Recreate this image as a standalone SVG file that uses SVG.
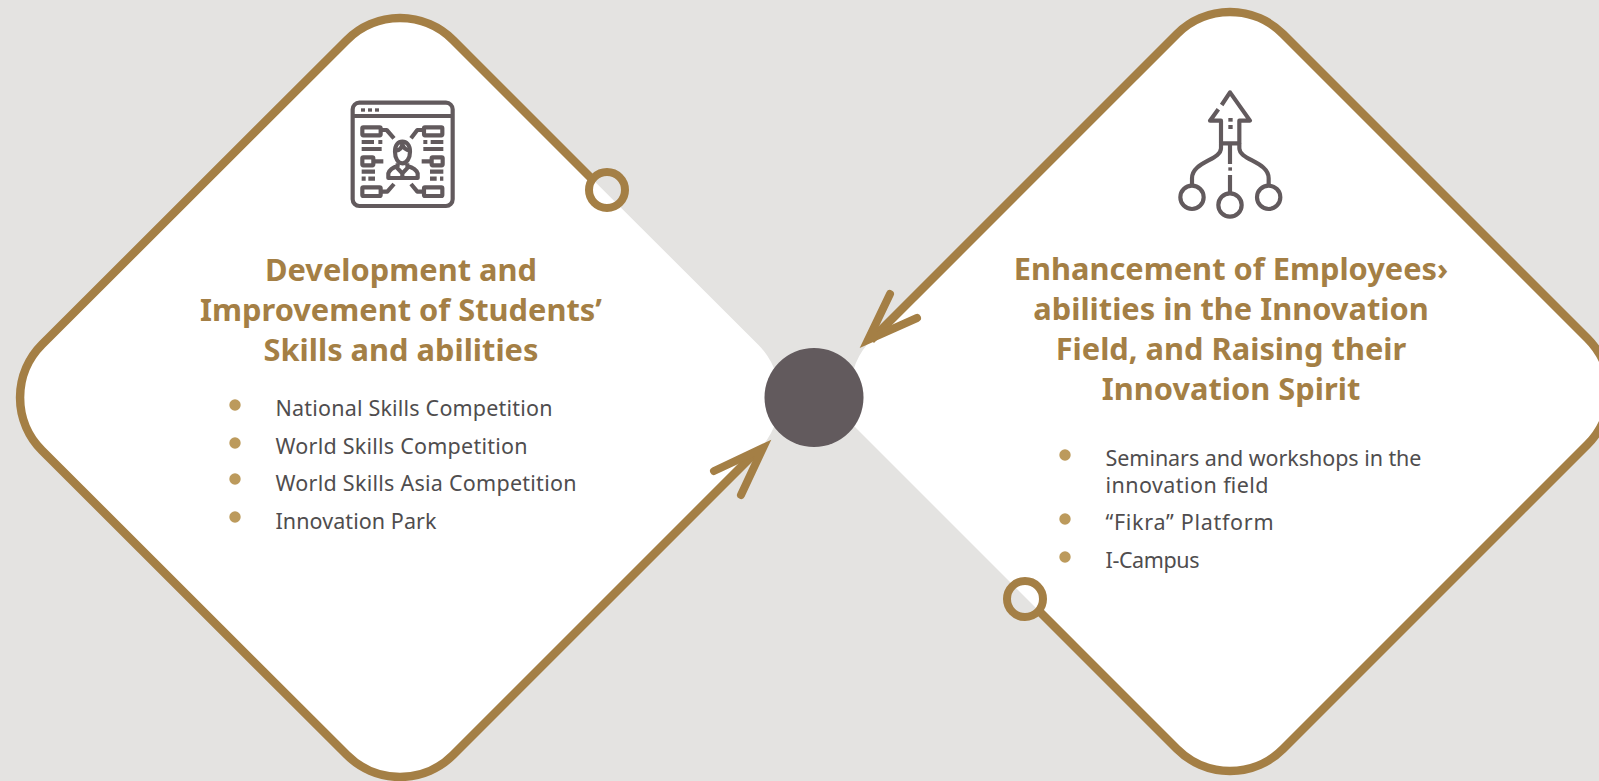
<svg xmlns="http://www.w3.org/2000/svg" width="1599" height="781" viewBox="0 0 1599 781">
<style>
.bg{fill:#e4e3e1}
.fillw{fill:#fff}
.out{fill:none;stroke:#a47f45;stroke-width:8.500;stroke-linejoin:round}
.head{fill:none;stroke:#a47f45;stroke-width:8;stroke-linejoin:miter;stroke-miterlimit:10;stroke-linecap:round}
.ring{fill:none;stroke:#a47f45;stroke-width:8}
.t{font-family:"Noto Sans","Open Sans",sans-serif;font-weight:700;font-size:30.800px;fill:#a47f45;text-anchor:middle}
.l{font-family:"Noto Sans","Open Sans",sans-serif;font-size:21.500px;fill:#4f4d4e}
.b{fill:#bc9a5c}
.ic{fill:none;stroke:#625a5d;stroke-width:12.500;stroke-linejoin:round}
.icf{fill:#625a5d}
</style>
<rect class="bg" width="1599" height="781"/>
<g id="node-students">
<path class="fillw" d="M453,40L758,344.500A75,75 0 0 1 758,450.500L453,755A75,75 0 0 1 347,755L42,450.500A75,75 0 0 1 42,344.500L347,40A75,75 0 0 1 453,40Z"/>
<g transform="translate(330,80) scale(.33333)">
<rect class="ic" x="68" y="68" width="300" height="310" rx="20"/>
<path class="ic" d="M68,108H368M95,186H132M145,186H157M95,207H155M280,186H292M302,186H340M280,207H340M95,275H135M95,296H107M115,296H135M300,275H340M300,296H320M330,296H340"/>
<path class="ic" d="M152,150H170L192,175M282,150H262L243,175M130,244H160M305,244H275M152,335H172L192,312M282,335H262L243,312"/>
<rect class="ic" x="97" y="142" width="55" height="24" rx="3"/>
<rect class="ic" x="282" y="142" width="55" height="24" rx="3"/>
<rect class="ic" x="97" y="232" width="33" height="24" rx="3"/>
<rect class="ic" x="305" y="232" width="33" height="24" rx="3"/>
<rect class="ic" x="97" y="322" width="55" height="26" rx="3"/>
<rect class="ic" x="282" y="322" width="55" height="26" rx="3"/>
<rect class="icf" x="93" y="85" width="12" height="10"/>
<rect class="icf" x="114" y="85" width="12" height="10"/>
<rect class="icf" x="135" y="85" width="12" height="10"/>
<path class="ic" d="M195,215C195,195 205,185 217,185C229,185 240,195 240,215C240,235 230,250 217,250C204,250 195,235 195,215Z"/>
<path class="ic" d="M197,212Q215,210 217,192Q222,210 240,212M203,250V258Q180,265 175,280V294H263V280Q258,265 232,258V250M200,262L217,280L234,262M217,280V294"/>
</g>
<text class="t" x="401" y="281">Development and</text>
<text class="t" x="401" y="321">Improvement of Students’</text>
<text class="t" x="401" y="361">Skills and abilities</text>
<circle class="b" cx="235" cy="405" r="5.700"/>
<circle class="b" cx="235" cy="443" r="5.700"/>
<circle class="b" cx="235" cy="479" r="5.700"/>
<circle class="b" cx="235" cy="517" r="5.700"/>
<text class="l" x="275.500" y="416" textLength="277">National Skills Competition</text>
<text class="l" x="275.500" y="454" textLength="252">World Skills Competition</text>
<text class="l" x="275.500" y="491" textLength="301">World Skills Asia Competition</text>
<text class="l" x="275.500" y="529" textLength="161">Innovation Park</text>
</g>
<g id="node-employees">
<path class="fillw" d="M1283,34L1587.500,338.500A75,75 0 0 1 1587.500,444.500L1283,749A75,75 0 0 1 1177,749L835,407L850.500,391.500A75,75 0 0 1 872.500,338.500L1177,34A75,75 0 0 1 1283,34Z"/>
<g transform="translate(1150,80) scale(.33333)">
<path class="ic" d="M215,75L240,37L300,122H268V190H213V122H180L205,88"/>
<path class="ic" d="M213,190V205C213,240 126,245 126,295V318M268,190V205C268,240 356,245 356,295V318M240,190V252M240,285V340"/>
<rect class="icf" x="235" y="114" width="13" height="11"/>
<rect class="icf" x="235" y="135" width="13" height="12"/>
<rect class="icf" x="235" y="262" width="11" height="10"/>
<circle class="ic" cx="126" cy="352" r="35"/>
<circle class="ic" cx="240" cy="375" r="35"/>
<circle class="ic" cx="356" cy="352" r="35"/>
</g>
<text class="t" x="1231" y="280">Enhancement of Employees›</text>
<text class="t" x="1231" y="320">abilities in the Innovation</text>
<text class="t" x="1231" y="360">Field, and Raising their</text>
<text class="t" x="1231" y="400">Innovation Spirit</text>
<circle class="b" cx="1065" cy="455" r="5.700"/>
<circle class="b" cx="1065" cy="519" r="5.700"/>
<circle class="b" cx="1065" cy="557" r="5.700"/>
<text class="l" x="1105.500" y="466" textLength="316">Seminars and workshops in the</text>
<text class="l" x="1105.500" y="493" textLength="163">innovation field</text>
<text class="l" x="1105.500" y="530" textLength="168">“Fikra” Platform</text>
<text class="l" x="1105.500" y="568" textLength="94">I-Campus</text>
</g>
<g id="connectors">
<path class="out" d="M594,181L453,40A75,75 0 0 0 347,40L42,344.500A75,75 0 0 0 42,450.500L347,755A75,75 0 0 0 453,755L756,452"/>
<path class="out" d="M871,340L1177,34A75,75 0 0 1 1283,34L1587.500,338.500A75,75 0 0 1 1587.500,444.500L1283,749A75,75 0 0 1 1177,749L1040,612"/>
<path class="head" d="M714,471L763,448L741,495"/>
<path class="head" d="M890,294L868,340L917,318"/>
<circle class="ring" cx="607" cy="190" r="18"/>
<circle class="ring" cx="1025" cy="599" r="18"/>
</g>
<g id="node-center">
<circle cx="814" cy="397.500" r="49.500" fill="#625a5d"/>
</g>
</svg>
